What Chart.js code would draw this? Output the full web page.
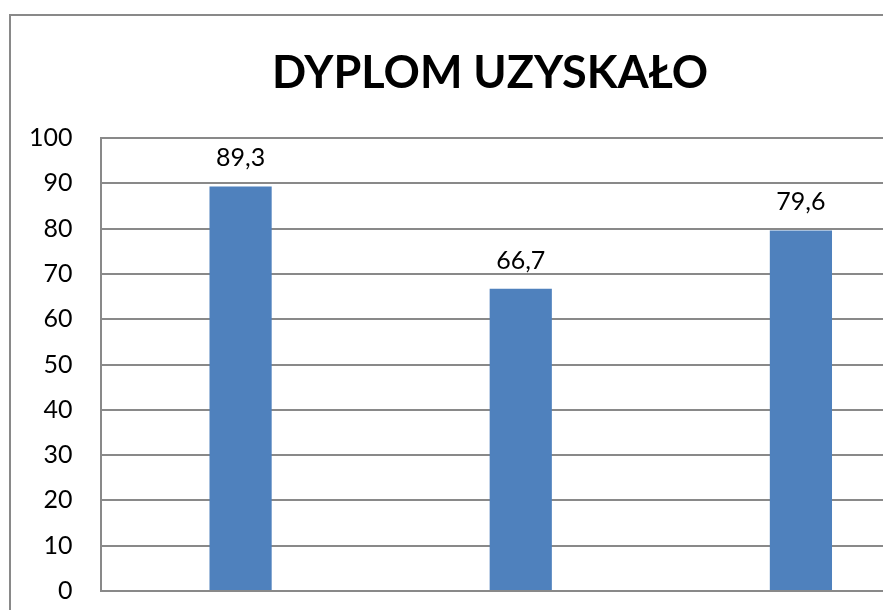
<!DOCTYPE html>
<html>
<head>
<meta charset="utf-8">
<script src="https://cdn.jsdelivr.net/npm/chart.js"></script>
<style>
  html, body { margin: 0; padding: 0; background: #fff; overflow: hidden; }
  #box {
    position: absolute; left: 9px; top: 14px;
    width: 960px; height: 640px;
    border: 2px solid #898989;
    overflow: hidden;
  }
  canvas { display: block; position: relative; left: -10px; }
</style>
</head>
<body>
<div id="box"><canvas id="dyplomChart" width="997" height="640"></canvas></div>
<script>
// values
const categories = ['2012', '2013', '2014'];
const dyplomValues = [89.3, 66.7, 79.6];
const yTicks = [0, 10, 20, 30, 40, 50, 60, 70, 80, 90, 100];
const chartTitle = 'DYPLOM UZYSKAŁO';

const fmt = v => String(v).replace('.', ',');

// value above each bar (like the Excel data labels) + the title centred on the box
const barLabels = {
    id: 'barLabels',
    afterDatasetsDraw(chart) {
        const c = chart.ctx;
        c.save();
        c.font = '25px Lato';
        c.fillStyle = '#000';
        c.textAlign = 'center';
        c.textBaseline = 'alphabetic';
        chart.getDatasetMeta(0).data.forEach((bar, i) => {
            c.fillText(fmt(dyplomValues[i]), bar.x, bar.y - 20);
        });

        // the box is 960 wide and the canvas sits 10px left of it
        c.font = 'bold 45px Lato';
        c.textBaseline = 'middle';
        c.fillText(chartTitle, 960 / 2 + 9, 57);
        c.restore();
    }
};

const ctx = document.getElementById('dyplomChart').getContext('2d');
const dyplomChart = new Chart(ctx, {
    type: 'bar',
    data: {
        labels: categories,
        datasets: [{
            label: 'Dyplom uzyskało',
            data: dyplomValues,
            backgroundColor: '#4f81bd',
            barPercentage: 0.222,
            categoryPercentage: 1
        }]
    },
    options: {
        responsive: false,
        animation: false,
        layout: { padding: { left: 0, right: 57, top: 122, bottom: 65 } },
        plugins: {
            legend: { display: false },
            tooltip: { enabled: false },
            title: { display: false }
        },
        scales: {
            x: {
                ticks: { display: false },
                grid: { display: false, drawTicks: false },
                border: { color: '#898989', width: 2 }
            },
            y: {
                min: 0,
                max: 100,
                afterBuildTicks: axis => { axis.ticks = yTicks.map(v => ({ value: v })); },
                ticks: {
                    color: '#000',
                    font: { family: 'Lato', size: 25 },
                    padding: 28
                },
                grid: { color: '#898989', lineWidth: 2, drawTicks: false },
                border: { color: '#898989', width: 2 }
            }
        }
    },
    plugins: [barLabels]
});
</script>
</body>
</html>
